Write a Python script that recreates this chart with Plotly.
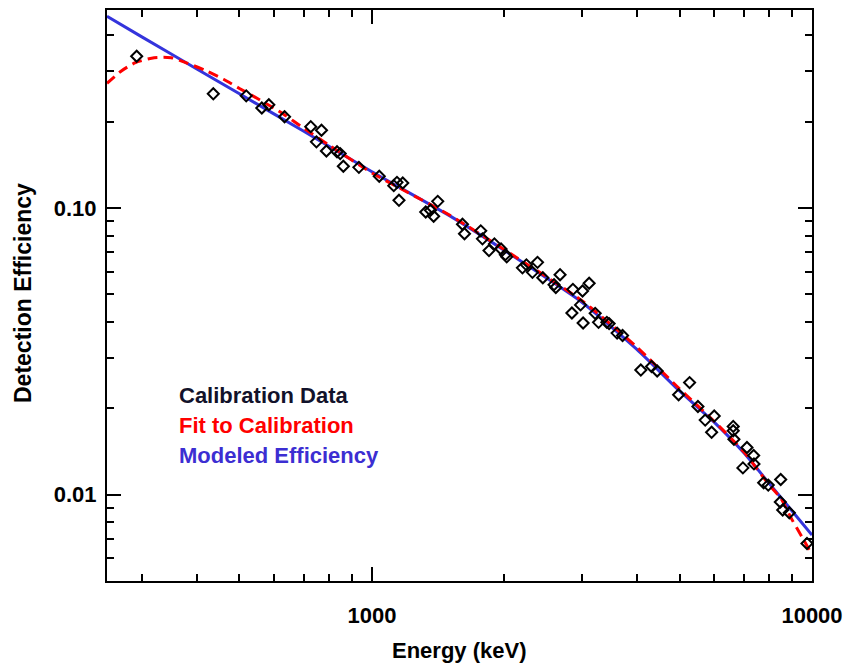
import numpy as np
import plotly.graph_objects as go

# Calibration data (keV, efficiency)
cal_energy = [292, 436, 518, 562, 583, 633, 726, 768, 748, 788, 833, 847, 861, 934,
              1039, 1121, 1140, 1175, 1152, 1411, 1325, 1358, 1381, 1606, 1623, 1767,
              1783, 1898, 1845, 1965, 2010, 2024, 2198, 2244, 2378, 2316, 2445, 2676,
              2593, 2617, 2862, 3010, 3116, 2979, 2847, 3019, 3216, 3273, 3418, 3459,
              3607, 3711, 4083, 4319, 4448, 4976, 5270, 5505, 5719, 5995, 5914, 6622,
              6622, 6646, 6966, 7115, 7369, 7381, 7765, 7954, 8489, 8472, 8578, 8880, 9741]
cal_eff = [0.338, 0.250, 0.246, 0.223, 0.229, 0.208, 0.192, 0.1865, 0.170, 0.158, 0.157,
           0.1547, 0.1397, 0.1385, 0.1289, 0.1196, 0.1228, 0.1222, 0.1063, 0.1054, 0.0968,
           0.0981, 0.0935, 0.0877, 0.0813, 0.0832, 0.0780, 0.0749, 0.0710, 0.0719, 0.0687,
           0.0675, 0.0618, 0.0633, 0.0646, 0.0596, 0.0571, 0.0585, 0.0540, 0.0528, 0.0520,
           0.0513, 0.0546, 0.0459, 0.0430, 0.0397, 0.0429, 0.0399, 0.0399, 0.0395, 0.0366,
           0.0359, 0.0272, 0.0280, 0.0270, 0.0223, 0.0246, 0.0203, 0.0182, 0.0188, 0.0165,
           0.0173, 0.0167, 0.0156, 0.0124, 0.0146, 0.0137, 0.0128, 0.0110, 0.0108, 0.0113,
           0.00943, 0.00884, 0.00865, 0.00676]

# Fit to calibration (red dashed)
fit_energy = [250, 270, 290, 320, 350, 380, 420, 460, 500, 560, 630, 700, 800, 1000,
              1500, 2000, 3000, 4000, 5000, 6000, 7000, 8000, 8500, 9000, 9500, 10000]
fit_eff = [0.272, 0.301, 0.321, 0.334, 0.334, 0.320, 0.301, 0.281, 0.261, 0.2367, 0.2122,
           0.1894, 0.1654, 0.1324, 0.0945, 0.0715, 0.0475, 0.0327, 0.0234, 0.0180, 0.0141,
           0.0108, 0.0097, 0.0082, 0.0071, 0.00618]

# Modeled efficiency (blue solid)
model_energy = [250, 300, 400, 500, 700, 1000, 1500, 2000, 3000, 4000, 5000, 6000, 7000,
                8000, 9000, 10000]
model_eff = [0.466, 0.395, 0.305, 0.250, 0.185, 0.1337, 0.094, 0.0711, 0.0469, 0.0321,
             0.0230, 0.01787, 0.0140, 0.01093, 0.00879, 0.00723]

x_major = [1000, 10000]
x_major_text = ["1000", "10000"]
x_minor = [300, 400, 500, 600, 700, 800, 900, 2000, 3000, 4000, 5000, 6000, 7000, 8000, 9000]
y_major = [0.01, 0.1]
y_major_text = ["0.01", "0.10"]
y_minor = [0.006, 0.007, 0.008, 0.009, 0.02, 0.03, 0.04, 0.05, 0.06, 0.07, 0.08, 0.09,
           0.2, 0.3, 0.4]

legend_labels = ["Calibration Data", "Fit to Calibration", "Modeled Efficiency"]
legend_colors = ["#12122a", "#ff0000", "#3c2ed2"]

FONT = "Liberation Sans, Arial, Helvetica, sans-serif"

fig = go.Figure()
fig.add_trace(go.Scatter(x=model_energy, y=model_eff, mode="lines",
                         line=dict(color="#3434dc", width=3, shape="spline", smoothing=0.6),
                         showlegend=False))
fig.add_trace(go.Scatter(x=fit_energy, y=fit_eff, mode="lines",
                         line=dict(color="#ff0000", width=3, dash="10px,6px", shape="spline", smoothing=0.6),
                         showlegend=False))
fig.add_trace(go.Scatter(x=cal_energy, y=cal_eff, mode="markers",
                         marker=dict(symbol="diamond-open", size=8.5, color="black",
                                     line=dict(color="black", width=2)),
                         showlegend=False))

axis_common = dict(
    showline=True, linecolor="black", linewidth=2, mirror="allticks",
    ticks="inside", ticklen=14, tickwidth=1.5, tickcolor="black",
    showgrid=False, zeroline=False, automargin=False,
    tickfont=dict(family=FONT, size=22, color="black", weight="bold"),
)

fig.update_xaxes(type="log", range=[np.log10(250), 4.0],
                 tickmode="array", tickvals=x_major, ticktext=x_major_text,
                 minor=dict(ticks="inside", ticklen=7, tickwidth=1.5, tickcolor="black",
                            tickmode="array", tickvals=x_minor, showgrid=False),
                 ticklabelstandoff=14, **axis_common)
fig.update_yaxes(type="log", range=[np.log10(0.005), np.log10(0.49)],
                 tickmode="array", tickvals=y_major, ticktext=y_major_text,
                 minor=dict(ticks="inside", ticklen=7, tickwidth=1.5, tickcolor="black",
                            tickmode="array", tickvals=y_minor, showgrid=False),
                 ticklabelstandoff=4, **axis_common)

# plot area spans x 107..812, y 10..581 on the page (body margin removed below)
L, T, PW, PH = 107, 10, 705, 571
W, H = 847, 667

annotations = []
for i, (lab, col) in enumerate(zip(legend_labels, legend_colors)):
    annotations.append(dict(xref="paper", yref="paper", x=(177 - 107) / PW,
                            y=(581 - (395.5 + 30 * i)) / PH, xanchor="left", yanchor="middle",
                            text=lab, showarrow=False,
                            font=dict(family=FONT, size=22, color=col, weight="bold")))
annotations.append(dict(xref="paper", yref="paper", x=0.5, y=(581 - 650) / PH,
                        xanchor="center", yanchor="middle", text="Energy (keV)", showarrow=False,
                        font=dict(family=FONT, size=22, color="black", weight="bold")))
annotations.append(dict(xref="paper", yref="paper", x=(23 - 107) / PW, y=(581 - 293) / PH,
                        xanchor="center", yanchor="middle", text="Detection Efficiency",
                        textangle=-90, showarrow=False,
                        font=dict(family=FONT, size=23, color="black", weight="bold")))

fig.update_layout(width=W, height=H, autosize=False,
                  margin=dict(l=L, r=W - L - PW, t=T, b=H - T - PH, autoexpand=False),
                  paper_bgcolor="white", plot_bgcolor="white", annotations=annotations)

fig.write_html("out.html",
               config={"displayModeBar": False, "responsive": False},
               post_script="document.body.style.margin='0';document.body.style.overflow='hidden';")
